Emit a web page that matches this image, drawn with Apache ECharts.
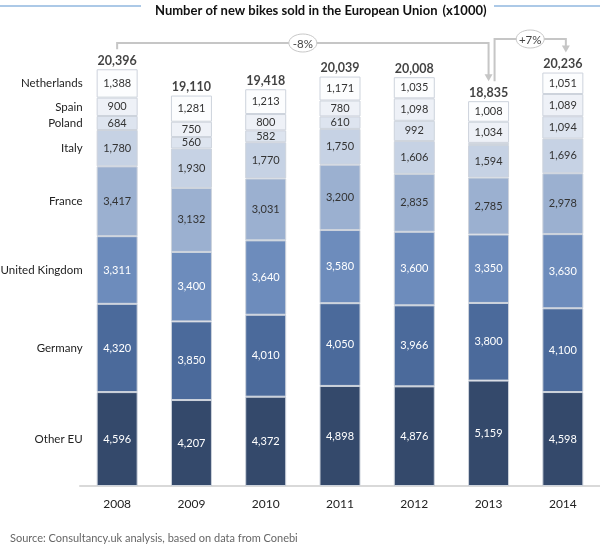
<!DOCTYPE html>
<html>
<head>
<meta charset="utf-8">
<script src="https://cdn.jsdelivr.net/npm/echarts@6/dist/echarts.min.js"></script>
<style>
html,body{margin:0;padding:0;background:#fff;}
#chart{width:600px;height:547px;}
</style>
</head>
<body>
<div id="chart"></div>
<script>
const years = ['2008', '2009', '2010', '2011', '2012', '2013', '2014'];
const otherEU     = [4596, 4207, 4372, 4898, 4876, 5159, 4598];
const germany     = [4320, 3850, 4010, 4050, 3966, 3800, 4100];
const unitedKingdom = [3311, 3400, 3640, 3580, 3600, 3350, 3630];
const france      = [3417, 3132, 3031, 3200, 2835, 2785, 2978];
const italy       = [1780, 1930, 1770, 1750, 1606, 1594, 1696];
const poland      = [684, 560, 582, 610, 992, 105, 1094];
const spain       = [900, 750, 800, 780, 1098, 1034, 1089];
const netherlands = [1388, 1281, 1213, 1171, 1035, 1008, 1051];
const totals      = [20396, 19110, 19418, 20039, 20008, 18835, 20236];
const changeFrom  = [0, 5];
const changeTo    = [5, 6];
const changeLabels = ['-8%', '+7%'];

const FONT = 'Lato, "Open Sans", sans-serif';

const seriesDefs = [
  {name: 'Other EU', data: otherEU, color: '#34496b', text: '#ffffff'},
  {name: 'Germany', data: germany, color: '#4b6a9b', text: '#ffffff'},
  {name: 'United Kingdom', data: unitedKingdom, color: '#6d8cbc', text: '#ffffff'},
  {name: 'France', data: france, color: '#9bb0d0', text: '#333333'},
  {name: 'Italy', data: italy, color: '#c6d2e4', text: '#333333'},
  {name: 'Poland', data: poland, color: '#dde4ef', text: '#333333'},
  {name: 'Spain', data: spain, color: '#eef1f7', text: '#333333'},
  {name: 'Netherlands', data: netherlands, color: '#fcfdfe', text: '#333333'}
];

const BAR_W = 41;
const series = [];

seriesDefs.forEach(function (d) {
  series.push({
    type: 'bar',
    name: d.name,
    stack: 'total',
    barWidth: BAR_W,
    data: d.data,
    itemStyle: {color: d.color, borderColor: '#cdd3dc', borderWidth: 1},
    label: {
      show: true,
      position: 'inside',
      color: d.text,
      fontSize: 11,
      fontFamily: FONT,
      formatter: function (p) { return p.value < 300 ? '' : p.value.toLocaleString('en-US'); }
    },
    silent: true
  });
});

// Category names beside the first bar (hidden twin stack on a hidden axis)
seriesDefs.forEach(function (d) {
  series.push({
    type: 'bar',
    name: d.name + ' label',
    stack: 'names',
    xAxisIndex: 1,
    barWidth: BAR_W,
    data: d.data.map(function (v, i) { return i === 0 ? v : '-'; }),
    itemStyle: {color: 'rgba(0,0,0,0)'},
    label: {
      show: true,
      position: 'left',
      distance: 14,
      color: '#222',
      fontSize: 11.5,
      fontFamily: FONT,
      formatter: function () { return d.name; }
    },
    silent: true
  });
});

// Totals above the bars
series.push({
  type: 'scatter',
  data: totals,
  symbolSize: 0,
  label: {
    show: true,
    position: 'top',
    distance: 2,
    color: '#111',
    fontSize: 12.5,
    fontWeight: 'bold',
    fontFamily: FONT,
    formatter: function (p) { return p.value.toLocaleString('en-US'); }
  },
  silent: true,
  z: 5
});

// Change brackets
const bracketStyle = [
  {lineY: 43, dx0: 0, dx1: 0},
  {lineY: 39, dx0: 6, dx1: 3}
];
const LINE_C = '#c6c6c6';
series.push({
  type: 'custom',
  silent: true,
  clip: false,
  z: 6,
  data: changeFrom.map(function (f, i) {
    return [f, changeTo[i], totals[f], totals[changeTo[i]]];
  }),
  encode: {x: [0, 1], y: [2, 3]},
  renderItem: function (params, api) {
    const i = params.dataIndex;
    const st = bracketStyle[i];
    const p0 = api.coord([api.value(0), api.value(2)]);
    const p1 = api.coord([api.value(1), api.value(3)]);
    const x0 = p0[0] + st.dx0;
    const x1 = p1[0] + st.dx1;
    const y0 = p0[1] - 20;
    const tip = p1[1] - 20;
    const ly = st.lineY;
    const mx = (x0 + x1) / 2;
    return {
      type: 'group',
      children: [
        {type: 'polyline', shape: {points: [[x0, y0], [x0, ly], [x1, ly], [x1, tip - 6]]},
         style: {stroke: LINE_C, lineWidth: 2, fill: null}},
        {type: 'polygon', shape: {points: [[x1 - 4, tip - 7], [x1 + 4, tip - 7], [x1, tip]]},
         style: {fill: LINE_C}},
        {type: 'ellipse', shape: {cx: mx, cy: ly, rx: 14, ry: 9},
         style: {fill: '#fff', stroke: '#c8c8c8', lineWidth: 1}},
        {type: 'text', style: {text: changeLabels[i], x: mx, y: ly + 1, align: 'center', verticalAlign: 'middle',
         fontSize: 11.5, fontFamily: FONT, fill: '#444'}}
      ]
    };
  }
});

const chart = echarts.init(document.getElementById('chart'), null, {renderer: 'canvas'});
chart.setOption({
  animation: false,
  backgroundColor: '#fff',
  title: [{
    text: '{b|Number of new bikes sold in the European Union} {n|(x1000)}',
    left: 150,
    top: -3,
    textStyle: {
      rich: {
        b: {fontWeight: 'bold', fontSize: 13, fontFamily: FONT, color: '#111'},
        n: {fontSize: 13, fontFamily: FONT, color: '#111'}
      }
    }
  }, {
    text: 'Source: Consultancy.uk analysis, based on data from Conebi',
    left: 5,
    top: 528,
    textStyle: {fontSize: 11, fontWeight: 'normal', fontFamily: FONT, color: '#666'}
  }],
  graphic: [
    {type: 'line', shape: {x1: 0, y1: 6, x2: 141, y2: 6}, style: {stroke: '#5b93cf', lineWidth: 1.2}},
    {type: 'line', shape: {x1: 494, y1: 6, x2: 600, y2: 6}, style: {stroke: '#5b93cf', lineWidth: 1.2}}
  ],
  grid: {left: 80, right: 0, top: 36.5, bottom: 61, containLabel: false},
  xAxis: [{
    type: 'category',
    data: years,
    axisLine: {lineStyle: {color: '#d9d9d9', width: 2}},
    axisTick: {show: false},
    axisLabel: {color: '#222', fontSize: 12, fontFamily: FONT, margin: 12}
  }, {
    type: 'category',
    data: years,
    show: false
  }],
  yAxis: {type: 'value', min: 0, max: 22000, show: false, splitLine: {show: false}},
  series: series
});
</script>
</body>
</html>
